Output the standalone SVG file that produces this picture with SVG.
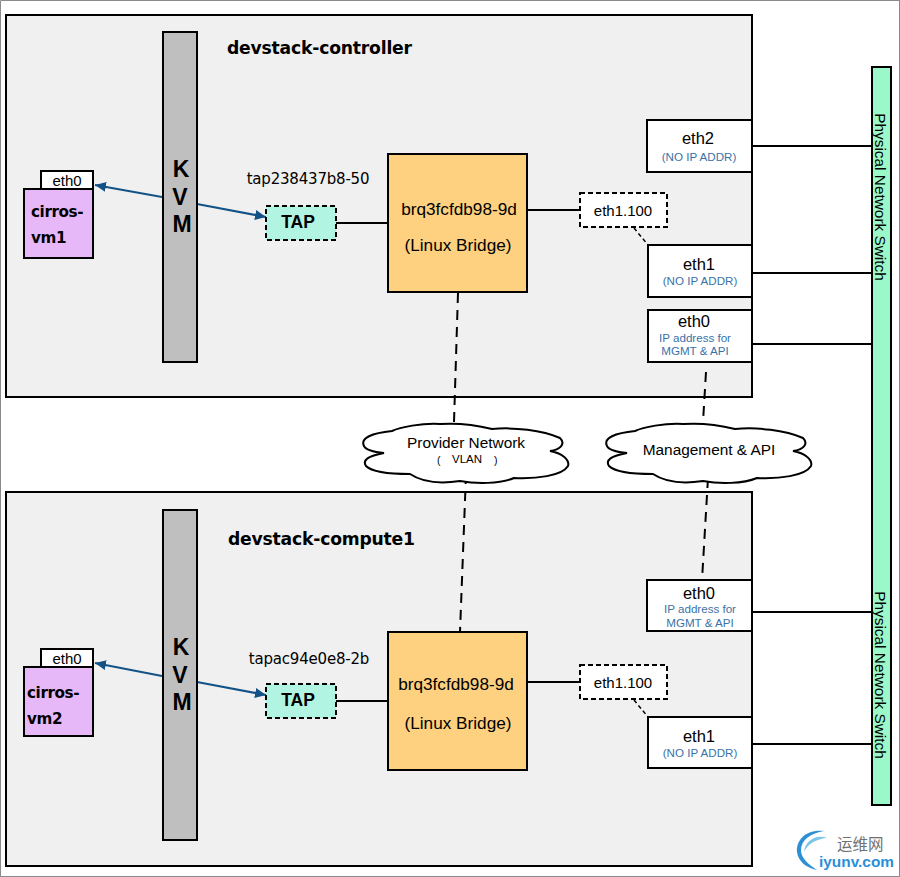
<svg xmlns="http://www.w3.org/2000/svg" width="900" height="877" viewBox="0 0 900 877">
<style>
text{font-family:"Liberation Sans",Arial,sans-serif;fill:#000}
.host{fill:#f0f0f0;stroke:#000;stroke-width:2}
.kvm{fill:#bfbfbf;stroke:#000;stroke-width:2}
.vm{fill:#e6b8f8;stroke:#000;stroke-width:2}
.box{fill:#fff;stroke:#000;stroke-width:2}
.dash{fill:#fff;stroke:#000;stroke-width:2;stroke-dasharray:5 3}
.tap{fill:#b2f4e2;stroke:#000;stroke-width:2;stroke-dasharray:5 3}
.br{fill:#fdd17f;stroke:#000;stroke-width:2}
.sw{fill:#9bf8c8;stroke:#000;stroke-width:2}
.cloud{fill:#fff;stroke:#000;stroke-width:2}
.l{fill:none;stroke:#000;stroke-width:2}
.d{fill:none;stroke:#000;stroke-width:2;stroke-dasharray:10 7}
.d2{fill:none;stroke:#000;stroke-width:1.5;stroke-dasharray:4 3}
.a{fill:none;stroke:#135286;stroke-width:2;marker-end:url(#ah)}
.title{font-size:17.2px;font-weight:bold;font-family:"DejaVu Sans","Liberation Sans",sans-serif;letter-spacing:-.2px}
.vmt{font-size:15.2px;font-weight:bold;font-family:"DejaVu Sans","Liberation Sans",sans-serif;letter-spacing:-.4px}
.k{font-size:23px;font-weight:bold;text-anchor:middle}
.m{font-size:15px;text-anchor:middle}
.e{font-size:16.5px;text-anchor:middle}
.b{font-size:17.2px;text-anchor:middle}
.s{font-size:11.6px;text-anchor:middle;fill:#3a72a8}
.c{font-size:15.4px;text-anchor:middle}
.tapn{font-size:15px;font-family:"DejaVu Sans","Liberation Sans",sans-serif;text-anchor:middle;letter-spacing:-.2px}
.tapt{font-size:17.5px;font-weight:bold;text-anchor:middle}
.sw-t{font-size:15.4px;text-anchor:middle}
</style>
<defs>
<marker id="ah" markerUnits="userSpaceOnUse" markerWidth="12" markerHeight="10" refX="11" refY="5" orient="auto"><path d="M0 0L11 5L0 10z" fill="#135286"/></marker>
<path id="cl" class="cloud" d="M0 22C-4 14 8 9 28 7C36 3 58 -1 76 0C90 -1 108 0 128 5C150 3 178 6 196 14C202 20 196 26 186 27C198 29 206 36 204 42C198 52 172 55 150 54C136 60 112 60 96 57C76 60 58 58 46 50C26 50 8 48 2 42C-2 36 4 32 20 29C10 28 2 26 0 22Z"/>
</defs>
<rect x="0" y="0" width="900" height="877" fill="#fff"/>
<path d="M.5 877V.5H900M899.5 0V877M0 876.5H900" fill="none" stroke="#8a8a8a" stroke-width="1"/>
<g id="host-controller">
<rect class="host" x="6" y="15" width="746" height="382"/>
<text class="title" x="227" y="54">devstack-controller</text>
</g>
<g id="host-compute1">
<rect class="host" x="6" y="492" width="746" height="374"/>
<text class="title" x="228" y="545">devstack-compute1</text>
</g>
<g id="connectors">
<path class="a" d="M162 197L95 185"/>
<path class="a" d="M197 204L266 217"/>
<path class="l" d="M336 223H388"/>
<path class="l" d="M527 210H580"/>
<path class="d2" d="M634 228L648 245"/>
<path class="l" d="M752 146H872M752 273H872M752 344H872"/>
<path class="d" d="M458 293L454 422"/>
<path class="d" d="M706 372L703 422"/>
<path class="d" d="M466 474L460 632"/>
<path class="d" d="M708 478L702 580"/>
<path class="a" d="M162 676L95 663"/>
<path class="a" d="M197 682L266 695"/>
<path class="l" d="M336 701H388"/>
<path class="l" d="M527 682H580"/>
<path class="d2" d="M634 700L648 717"/>
<path class="l" d="M752 612H872M752 744H872"/>
</g>
<g id="switch">
<rect class="sw" x="872" y="67" width="19" height="738"/>
<text class="sw-t" transform="translate(875,197) rotate(90)">Physical Network Switch</text>
<text class="sw-t" transform="translate(875,675) rotate(90)">Physical Network Switch</text>
</g>
<g id="kvm1">
<rect class="kvm" x="163" y="32" width="34" height="330"/>
<text class="k" x="181" y="177">K</text><text class="k" x="180" y="205">V</text><text class="k" x="182" y="232">M</text>
</g>
<g id="vm1-eth0">
<rect class="box" x="41" y="171" width="52" height="18"/>
<text class="m" x="67" y="186">eth0</text>
</g>
<g id="vm1">
<rect class="vm" x="24" y="189" width="69" height="69"/>
<text class="vmt" x="31" y="217">cirros-</text><text class="vmt" x="31" y="243">vm1</text>
</g>
<g id="tap1">
<text class="tapn" x="308" y="184">tap238437b8-50</text>
<rect class="tap" x="266" y="206" width="70" height="34"/>
<text class="tapt" x="298" y="228">TAP</text>
</g>
<g id="bridge1">
<rect class="br" x="388" y="154" width="139" height="138"/>
<text class="b" x="459" y="215">brq3fcfdb98-9d</text>
<text class="b" x="458" y="251">(Linux Bridge)</text>
</g>
<g id="eth1100-1">
<rect class="dash" x="580" y="193" width="87" height="34"/>
<text class="m" x="623" y="216">eth1.100</text>
</g>
<g id="eth2-1">
<rect class="box" x="647" y="120" width="105" height="52"/>
<text class="e" x="698" y="144">eth2</text>
<text class="s" x="699" y="161">(NO IP ADDR)</text>
</g>
<g id="eth1-1">
<rect class="box" x="648" y="245" width="104" height="52"/>
<text class="e" x="699" y="270">eth1</text>
<text class="s" x="700" y="285">(NO IP ADDR)</text>
</g>
<g id="eth0-1">
<rect class="box" x="648" y="310" width="104" height="52"/>
<text class="e" x="694" y="327">eth0</text>
<text class="s" x="695" y="342">IP address for</text>
<text class="s" x="695" y="355">MGMT &amp; API</text>
</g>
<g id="cloud-provider">
<use href="#cl" transform="translate(364,424)"/>
<text class="c" x="466" y="448">Provider Network</text>
<text x="437" y="464" style="font-size:10.5px">(</text>
<text x="467" y="463" text-anchor="middle" style="font-size:11.5px">VLAN</text>
<text x="494" y="464" style="font-size:10.5px">)</text>
</g>
<g id="cloud-mgmt">
<use href="#cl" transform="translate(607,424)"/>
<text class="c" x="709" y="455">Management &amp; API</text>
</g>
<g id="kvm2">
<rect class="kvm" x="163" y="510" width="34" height="330"/>
<text class="k" x="181" y="655">K</text><text class="k" x="180" y="683">V</text><text class="k" x="182" y="710">M</text>
</g>
<g id="vm2-eth0">
<rect class="box" x="41" y="649" width="52" height="18"/>
<text class="m" x="67" y="664">eth0</text>
</g>
<g id="vm2">
<rect class="vm" x="24" y="667" width="69" height="69"/>
<text class="vmt" x="27" y="698">cirros-</text><text class="vmt" x="27" y="724">vm2</text>
</g>
<g id="tap2">
<text class="tapn" x="309" y="664">tapac94e0e8-2b</text>
<rect class="tap" x="266" y="684" width="70" height="34"/>
<text class="tapt" x="298" y="706">TAP</text>
</g>
<g id="bridge2">
<rect class="br" x="388" y="632" width="139" height="138"/>
<text class="b" x="456" y="690">brq3fcfdb98-9d</text>
<text class="b" x="458" y="729">(Linux Bridge)</text>
</g>
<g id="eth1100-2">
<rect class="dash" x="580" y="665" width="87" height="34"/>
<text class="m" x="623" y="688">eth1.100</text>
</g>
<g id="eth0-2">
<rect class="box" x="647" y="580" width="105" height="51"/>
<text class="e" x="699" y="599">eth0</text>
<text class="s" x="700" y="613">IP address for</text>
<text class="s" x="700" y="627">MGMT &amp; API</text>
</g>
<g id="eth1-2">
<rect class="box" x="648" y="717" width="104" height="51"/>
<text class="e" x="699" y="742">eth1</text>
<text class="s" x="700" y="757">(NO IP ADDR)</text>
</g>
<g id="watermark">
<path d="M824 831C806 829 796 840 797 852C798 861 806 868 817 870C808 864 801 858 801 850C801 840 811 833 824 831Z" fill="#2d8fd5"/>
<path d="M827 838C816 834 805 841 804 852C807 845 815 839 827 838Z" fill="#7cc4ea"/>
<text x="837" y="850" style="font-family:'Noto Sans CJK SC',sans-serif;font-size:15.5px;fill:#707070">运维网</text>
<text x="819" y="867" style="font-size:15.4px;font-weight:bold;fill:#2a8fd8">iyunv.com</text>
</g>
</svg>
